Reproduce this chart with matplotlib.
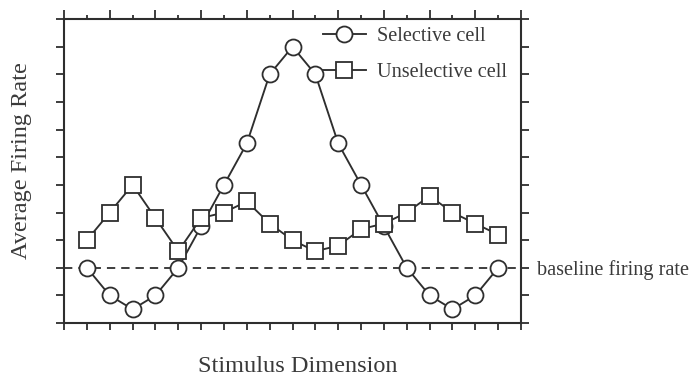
import numpy as np
import matplotlib
matplotlib.use("Agg")
import matplotlib.pyplot as plt
from matplotlib.lines import Line2D
from matplotlib.transforms import blended_transform_factory

plt.rcParams['font.family'] = ['Liberation Serif', 'DejaVu Serif']
plt.rcParams['lines.scale_dashes'] = False

# stimulus positions and firing rates
stim = np.arange(1, 20)
selective = [2, 1, 0.5, 1, 2, 3.5, 5, 6.5, 9, 10, 9, 6.5, 5, 3.5, 2, 1, 0.5, 1, 2]
unselective = [3, 4, 5, 3.8, 2.6, 3.8, 4, 4.4, 3.6, 3, 2.6, 2.8, 3.4, 3.6, 4, 4.6, 4, 3.6, 3.2]
baseline = 2

ink = '#2e2e2e'
txt = '#3a3a3a'

fig = plt.figure(figsize=(6.9, 3.81), dpi=100)
ax = fig.add_axes([0.0928, 0.152, 0.6623, 0.798])

ax.axhline(baseline, color=ink, lw=1.3, dashes=(6, 4.3), zorder=1)

ax.plot(stim, selective, color=ink, lw=1.35, marker='o', ms=11.5,
        mfc='white', mec=ink, mew=1.3, zorder=2)
ax.plot(stim, unselective, color=ink, lw=1.35, marker='s', ms=11,
        mfc='white', mec=ink, mew=1.3, zorder=3)

ax.set_xlim(0, 20)
ax.set_ylim(0, 11)

for s in ax.spines.values():
    s.set_linewidth(1.5)
    s.set_color(ink)

ax.set_yticks(np.arange(0, 12))
ax.set_xticks(np.arange(0, 21, 1))
ax.tick_params(axis='y', which='both', direction='out', length=6, width=1.3,
               color=ink, left=True, right=True, labelleft=False, labelright=False)
ax.tick_params(axis='x', which='major', direction='out', length=5, width=1.3,
               color=ink, bottom=True, top=False, labelbottom=False)

# top axis: long ticks every 2, short ticks between
top = ax.secondary_xaxis('top')
top.set_xticks(np.arange(0, 21, 2))
top.set_xticks(np.arange(1, 20, 2), minor=True)
top.tick_params(which='major', direction='out', length=6.5, width=1.3, color=ink, labeltop=False)
top.tick_params(which='minor', direction='out', length=3, width=1.3, color=ink)
top.spines['top'].set_visible(False)

ax.set_xlabel('Stimulus Dimension', fontsize=17.5, color=txt)
ax.xaxis.set_label_coords(0.512, -0.108)
ax.set_ylabel('Average Firing Rate', fontsize=17.5, color=txt)
ax.yaxis.set_label_coords(-0.07, 0.533)

trans = blended_transform_factory(ax.transAxes, ax.transData)
ax.text(1.035, baseline - 0.08, 'baseline firing rate', transform=trans, va='center',
        ha='left', fontsize=14.6, color=txt, clip_on=False)

handles = [Line2D([], [], color=ink, lw=1.35, marker='o', ms=11.5, mfc='white', mec=ink, mew=1.3),
           Line2D([], [], color=ink, lw=1.35, marker='s', ms=11, mfc='white', mec=ink, mew=1.3)]
ax.legend(handles, ['Selective cell', 'Unselective cell'], loc='upper left',
          bbox_to_anchor=(0.567, 0.975), frameon=False, fontsize=14.6, labelcolor=txt,
          handlelength=2.1, handletextpad=0.55, labelspacing=0.83, borderpad=0,
          borderaxespad=0, numpoints=1)

fig.savefig('out.png', dpi=100)
